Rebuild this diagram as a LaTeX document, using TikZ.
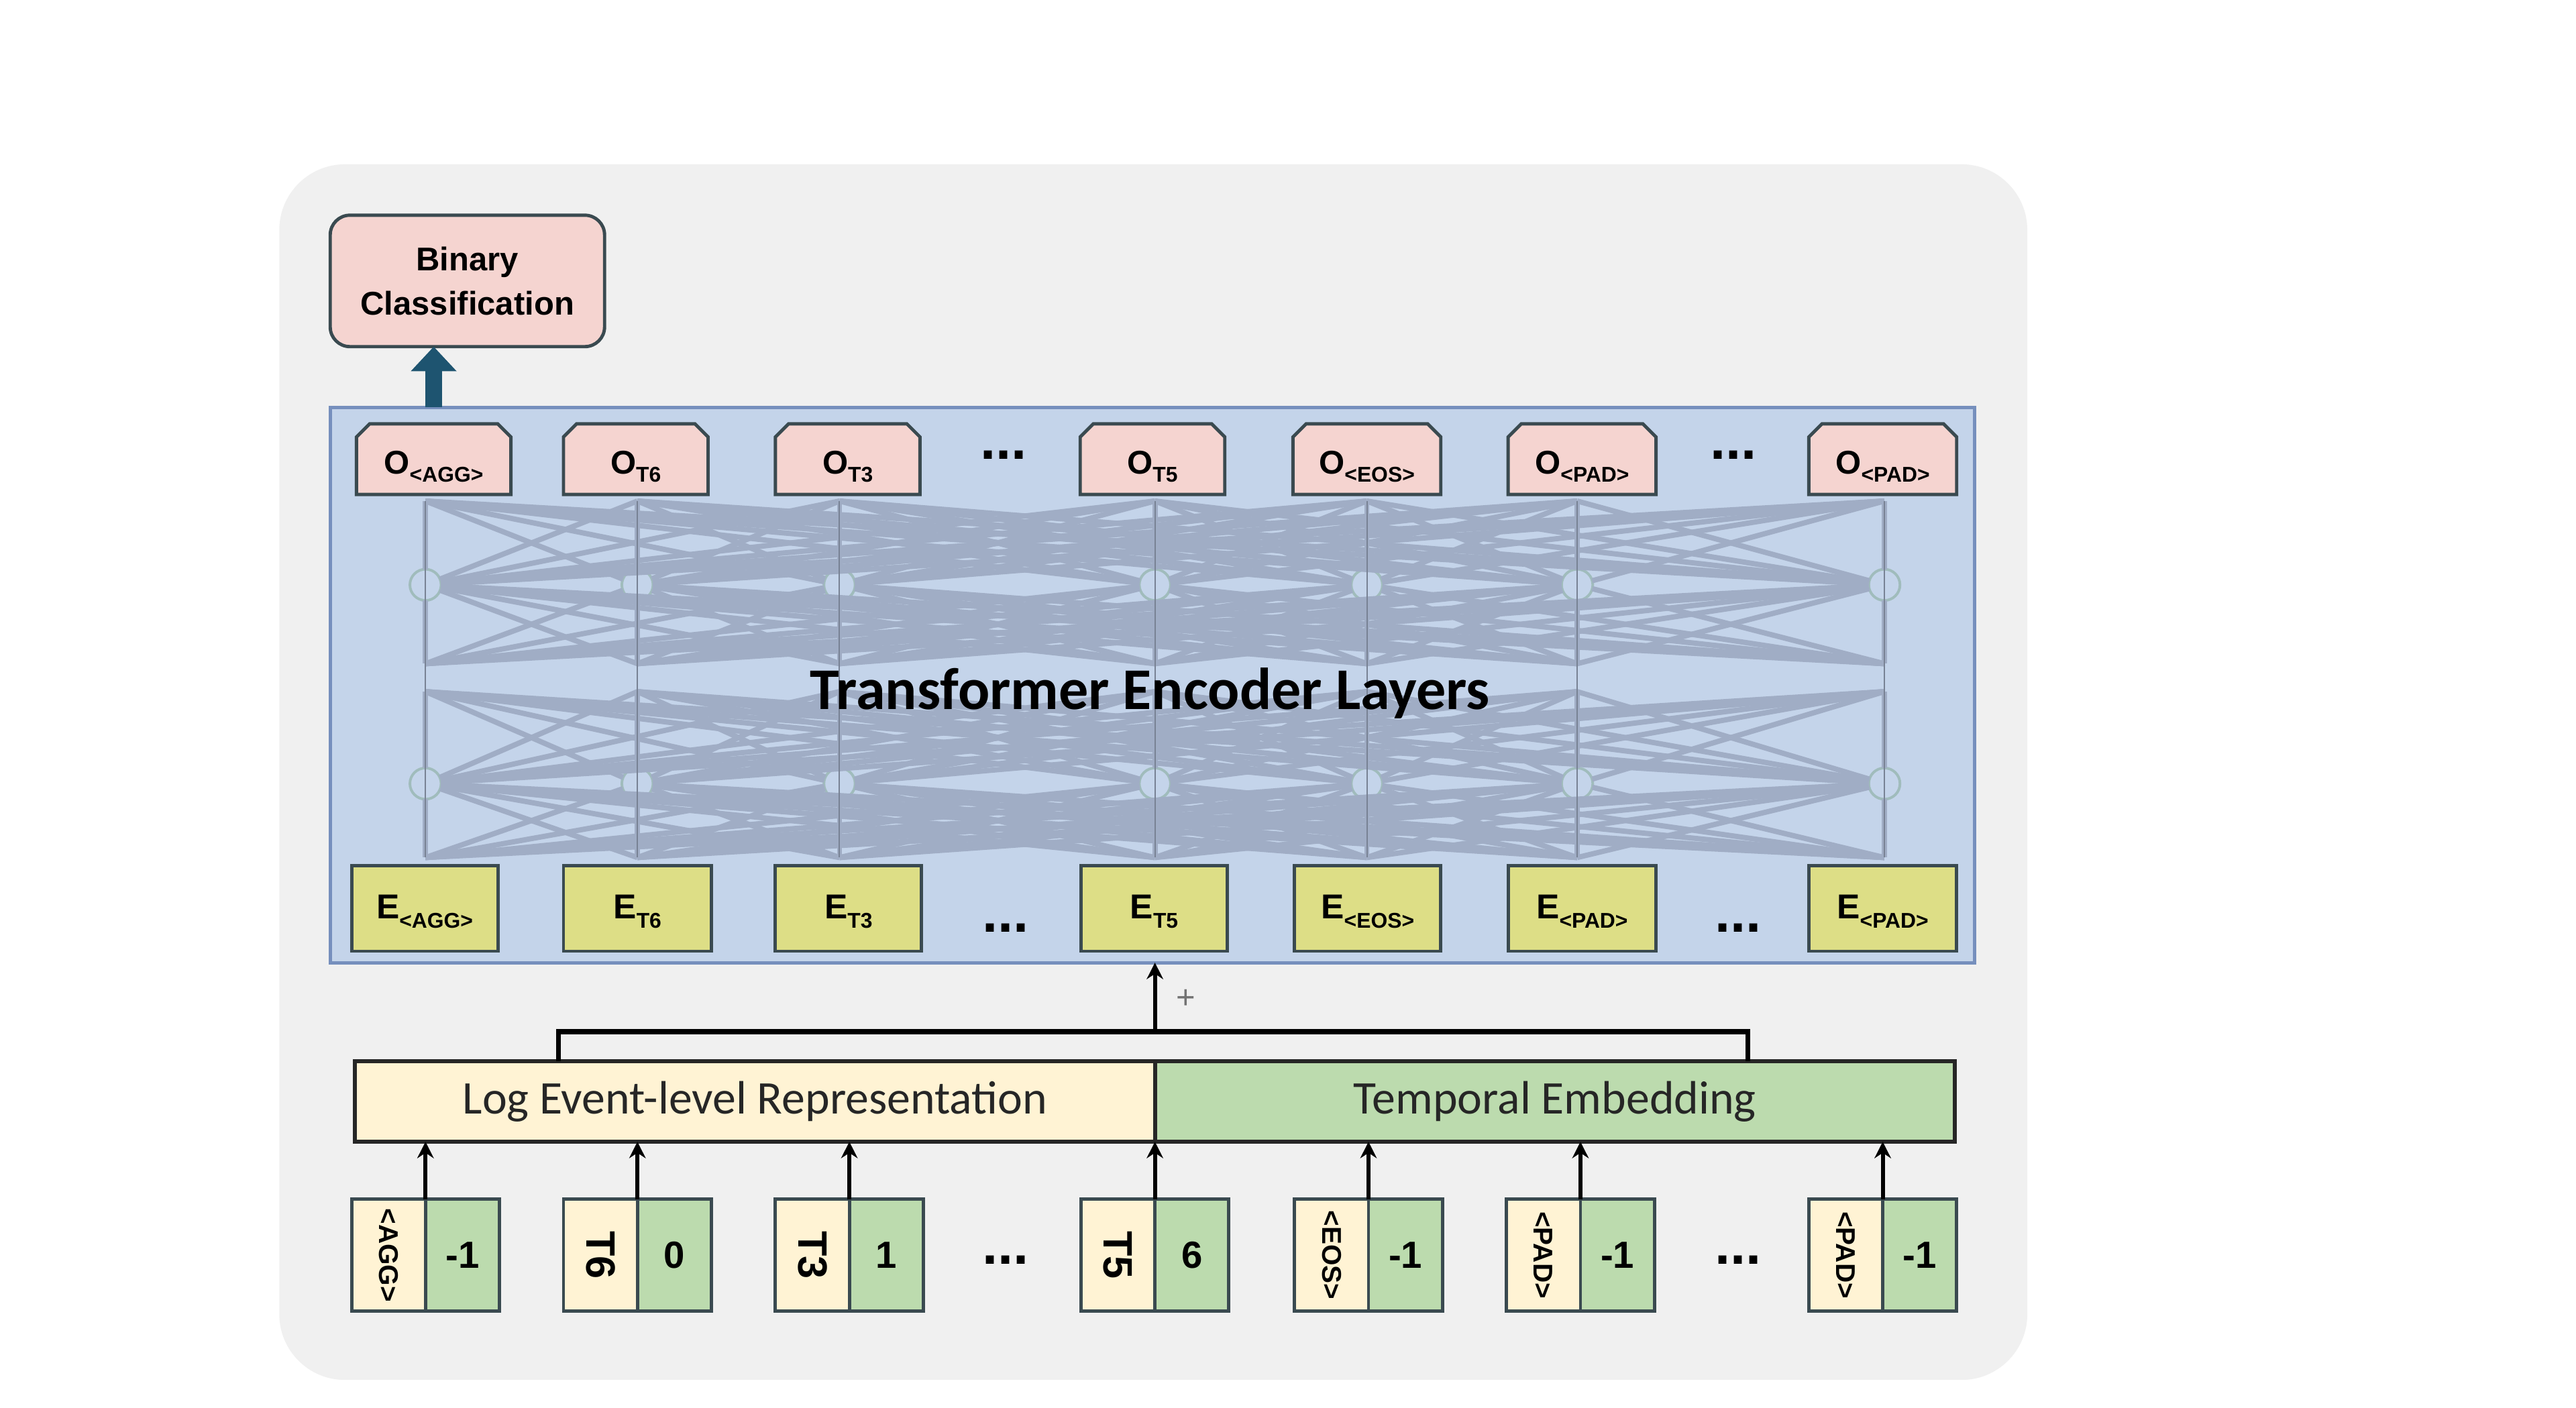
\documentclass[tikz,border=0pt]{standalone}
\usepackage{fontspec}
\setmainfont{Liberation Sans}
\newfontfamily\calfont{Carlito}
\usepackage{graphicx}
\usetikzlibrary{arrows.meta,shapes.misc}

\definecolor{panel}{RGB}{240,240,240}
\definecolor{encfill}{RGB}{196,212,234}
\definecolor{encdraw}{RGB}{118,143,189}
\definecolor{meshc}{RGB}{160,173,197}
\definecolor{neur}{RGB}{160,188,188}
\definecolor{pinkf}{RGB}{245,212,208}
\definecolor{bdr}{RGB}{58,74,80}
\definecolor{yelf}{RGB}{221,222,134}
\definecolor{creamf}{RGB}{255,243,212}
\definecolor{greenf}{RGB}{188,219,174}
\definecolor{arrowteal}{RGB}{30,84,112}

\newcommand{\labO}[1]{{\fontsize{20}{20}\selectfont\bfseries O}\raisebox{-5pt}{\fontsize{13}{13}\selectfont\bfseries #1}}
\newcommand{\labE}[1]{{\fontsize{21}{21}\selectfont\bfseries E}\raisebox{-6pt}{\fontsize{13}{13}\selectfont\bfseries #1}}
\newcommand{\vlab}[2]{\rotatebox{-90}{\fontsize{#1}{#1}\selectfont\bfseries #2}}

\tikzset{
  every node/.style={inner sep=0pt, outer sep=0pt},
  panelbox/.style={fill=panel, rounded corners=40pt},
  encbox/.style={rectangle, fill=encfill, draw=encdraw, line width=2pt},
  meshline/.style={draw=meshc, line width=3.2pt},
  colline/.style={draw=meshc!75!black, line width=0.8pt},
  neuron/.style={circle, draw=neur, line width=1.6pt, minimum size=19pt},
  obox/.style={chamfered rectangle, chamfered rectangle corners={north west,north east},
    chamfered rectangle xsep=4pt, chamfered rectangle ysep=4pt,
    draw=bdr, line width=2pt, fill=pinkf, minimum height=43pt, text height=18pt, text depth=0pt},
  ebox/.style={rectangle, draw=bdr, line width=2pt, fill=yelf, minimum height=52pt,
    text height=12pt, text depth=0pt},
  cream/.style={rectangle, draw=bdr, line width=2pt, fill=creamf, minimum width=45pt, minimum height=68pt},
  greencell/.style={rectangle, draw=bdr, line width=2pt, fill=greenf, minimum width=45pt,
    minimum height=68pt, font=\bfseries\fontsize{23}{23}\selectfont},
  bar/.style={rectangle, draw=black!85, line width=2.4pt, minimum height=49pt, minimum width=487pt,
    font=\calfont\fontsize{28.5}{28.5}\selectfont, text=black!85},
  dotsnode/.style={font=\bfseries\fontsize{34}{34}\selectfont},
  binbox/.style={rectangle, rounded corners=12pt, draw=bdr, line width=2pt, fill=pinkf,
    minimum width=167pt, minimum height=80pt, align=center,
    font=\bfseries\fontsize{20}{27}\selectfont},
  bigarrow/.style={draw=arrowteal, line width=10pt, -{Triangle[length=15pt,width=27pt]}},
  smallarrow/.style={draw=black, line width=2.4pt, -{Stealth[length=10pt,width=10pt]}},
  bracketline/.style={draw=black, line width=3pt},
}

\begin{document}
\begin{tikzpicture}[x=1pt,y=-1pt]
\useasboundingbox (0,0) rectangle (1568,857);
\fill[white] (0,0) rectangle (1568,857);

% outer panel
\node[panelbox, minimum width=1064pt, minimum height=740pt] (panel) at (702,470) {};

% binary classification
\node[binbox] (bin) at (284.5,171) {Binary\\Classification};

% encoder block
\node[encbox, minimum width=1001pt, minimum height=338pt] (enc) at (701.5,417) {};

% mesh points
\foreach \x [count=\i] in {259,388,511,703,832,960,1147} {
  \coordinate (ta\i) at (\x,305);
  \node[neuron] (na\i) at (\x,356) {};
  \coordinate (ba\i) at (\x,404);
  \coordinate (tb\i) at (\x,421);
  \node[neuron] (nb\i) at (\x,477) {};
  \coordinate (bb\i) at (\x,522);
}
\foreach \i in {1,...,7} {
  \foreach \j in {1,...,7} {
    \draw[meshline] (ta\i) -- (na\j);
    \draw[meshline] (na\i) -- (ba\j);
    \draw[meshline] (tb\i) -- (nb\j);
    \draw[meshline] (nb\i) -- (bb\j);
  }
}
\foreach \i in {1,...,7} {
  \draw[colline] (ta\i) -- (bb\i);
}

\node[font=\calfont\bfseries\fontsize{36}{36}\selectfont, anchor=base] (title) at (700,432) {Transformer Encoder Layers};

% output row
\node[obox, minimum width=94pt] (o1) at (264,279.5) {\labO{<AGG>}};
\node[obox, minimum width=88pt] (o2) at (387,279.5) {\labO{T6}};
\node[obox, minimum width=88pt] (o3) at (516,279.5) {\labO{T3}};
\node[dotsnode] (od1) at (611,277) {...};
\node[obox, minimum width=88pt] (o4) at (701.5,279.5) {\labO{T5}};
\node[obox, minimum width=90pt] (o5) at (832,279.5) {\labO{<EOS>}};
\node[obox, minimum width=90pt] (o6) at (963,279.5) {\labO{<PAD>}};
\node[dotsnode] (od2) at (1055,277) {...};
\node[obox, minimum width=90pt] (o7) at (1146,279.5) {\labO{<PAD>}};

\draw[bigarrow] (o1.north |- enc.north) -- (o1.north |- bin.south);

% embedding row
\node[ebox, minimum width=89pt] (e1) at (258.5,553) {\labE{<AGG>}};
\node[ebox, minimum width=90pt] (e2) at (388,553) {\labE{T6}};
\node[ebox, minimum width=89pt] (e3) at (516.5,553) {\labE{T3}};
\node[dotsnode] (ed1) at (612,565) {...};
\node[ebox, minimum width=89pt] (e4) at (702.5,553) {\labE{T5}};
\node[ebox, minimum width=89pt] (e5) at (832.5,553) {\labE{<EOS>}};
\node[ebox, minimum width=90pt] (e6) at (963,553) {\labE{<PAD>}};
\node[dotsnode] (ed2) at (1058,565) {...};
\node[ebox, minimum width=90pt] (e7) at (1146,553) {\labE{<PAD>}};

% bars
\node[bar, fill=creamf] (log) at (459.5,670.5) {Log Event-level Representation};
\node[bar, fill=greenf] (tmp) at (946.5,670.5) {Temporal Embedding};

% bracket and sum arrow
\coordinate (bl) at (340,646);
\coordinate (br) at (1064,646);
\coordinate (bj) at (703,628);
\draw[bracketline] (bl) |- (bj) -| (br);
\draw[smallarrow] (bj) -- (bj |- enc.south);
\node[font=\fontsize{20}{20}\selectfont, text=black!55] (plus) at (722,608) {+};

% input pairs
\node[cream, anchor=east] (c1) at (259,764) {\vlab{16.5}{<AGG>}};
\node[greencell, anchor=west] (g1) at (259,764) {-1};
\node[cream, anchor=east] (c2) at (388,764) {\vlab{25}{T6}};
\node[greencell, anchor=west] (g2) at (388,764) {0};
\node[cream, anchor=east] (c3) at (517,764) {\vlab{25}{T3}};
\node[greencell, anchor=west] (g3) at (517,764) {1};
\node[dotsnode] (id1) at (612,767) {...};
\node[cream, anchor=east] (c4) at (703,764) {\vlab{25}{T5}};
\node[greencell, anchor=west] (g4) at (703,764) {6};
\node[cream, anchor=east] (c5) at (833,764) {\vlab{16.5}{<EOS>}};
\node[greencell, anchor=west] (g5) at (833,764) {-1};
\node[cream, anchor=east] (c6) at (962,764) {\vlab{16.5}{<PAD>}};
\node[greencell, anchor=west] (g6) at (962,764) {-1};
\node[dotsnode] (id2) at (1058,767) {...};
\node[cream, anchor=east] (c7) at (1146,764) {\vlab{16.5}{<PAD>}};
\node[greencell, anchor=west] (g7) at (1146,764) {-1};

% input arrows
\draw[smallarrow] (c1.north east) -- (c1.north east |- log.south);
\draw[smallarrow] (c2.north east) -- (c2.north east |- log.south);
\draw[smallarrow] (c3.north east) -- (c3.north east |- log.south);
\draw[smallarrow] (c4.north east) -- (c4.north east |- log.south);
\draw[smallarrow] (c5.north east) -- (c5.north east |- tmp.south);
\draw[smallarrow] (c6.north east) -- (c6.north east |- tmp.south);
\draw[smallarrow] (c7.north east) -- (c7.north east |- tmp.south);
\end{tikzpicture}
\end{document}
